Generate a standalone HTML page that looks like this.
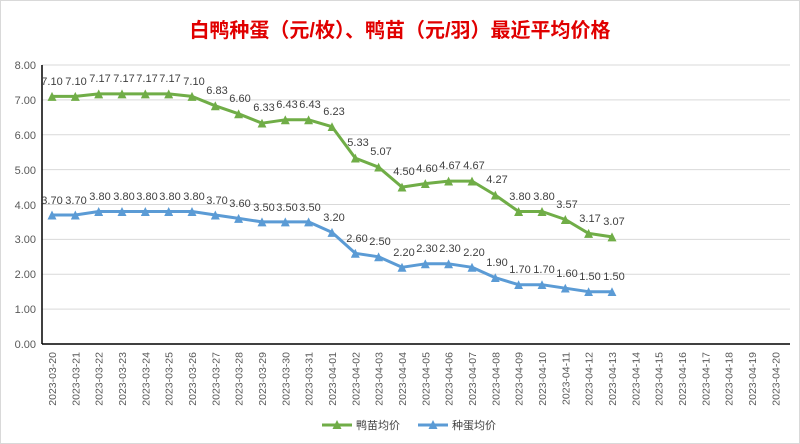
<!DOCTYPE html>
<html><head><meta charset="utf-8"><style>
html,body{margin:0;padding:0;background:#fff}
svg{display:block;font-family:"Liberation Sans","Noto Sans CJK SC",sans-serif}
</style></head><body>
<svg width="800" height="444" viewBox="0 0 800 444" xmlns="http://www.w3.org/2000/svg">
<defs>
<marker id="tg" viewBox="0 0 10 10" refX="5" refY="5" markerWidth="9" markerHeight="9" markerUnits="userSpaceOnUse"><path d="M5 0L10 10H0Z" fill="#70AD47"/></marker>
<marker id="tb" viewBox="0 0 10 10" refX="5" refY="5" markerWidth="9" markerHeight="9" markerUnits="userSpaceOnUse"><path d="M5 0L10 10H0Z" fill="#5B9BD5"/></marker>
</defs>
<rect x="0.5" y="0.5" width="799" height="443" fill="#fff" stroke="#d9d9d9"/>
<text x="400" y="37" text-anchor="middle" font-size="20" font-weight="bold" fill="#E00000">白鸭种蛋（元/枚）、鸭苗（元/羽）最近平均价格</text>
<g stroke="#d9d9d9" stroke-width="1">
<line x1="42" x2="790" y1="65" y2="65"/><line x1="42" x2="790" y1="99.9" y2="99.9"/><line x1="42" x2="790" y1="134.8" y2="134.8"/><line x1="42" x2="790" y1="169.6" y2="169.6"/><line x1="42" x2="790" y1="204.5" y2="204.5"/><line x1="42" x2="790" y1="239.4" y2="239.4"/><line x1="42" x2="790" y1="274.3" y2="274.3"/><line x1="42" x2="790" y1="309.1" y2="309.1"/>
</g>
<line x1="42" x2="790" y1="344" y2="344" stroke="#000" stroke-width="1.5"/>
<line x1="42" x2="42" y1="65" y2="344" stroke="#000" stroke-width="1.5"/>
<g font-size="11" fill="#595959" text-anchor="end">
<text x="36" y="69">8.00</text><text x="36" y="104">7.00</text><text x="36" y="139">6.00</text><text x="36" y="174">5.00</text><text x="36" y="209">4.00</text><text x="36" y="243">3.00</text><text x="36" y="278">2.00</text><text x="36" y="313">1.00</text><text x="36" y="348">0.00</text>
</g>
<g font-size="10.5" fill="#595959" text-anchor="end">
<text transform="translate(56,352) rotate(-90)">2023-03-20</text>
<text transform="translate(79.3,352) rotate(-90)">2023-03-21</text>
<text transform="translate(102.7,352) rotate(-90)">2023-03-22</text>
<text transform="translate(126,352) rotate(-90)">2023-03-23</text>
<text transform="translate(149.3,352) rotate(-90)">2023-03-24</text>
<text transform="translate(172.7,352) rotate(-90)">2023-03-25</text>
<text transform="translate(196,352) rotate(-90)">2023-03-26</text>
<text transform="translate(219.3,352) rotate(-90)">2023-03-27</text>
<text transform="translate(242.6,352) rotate(-90)">2023-03-28</text>
<text transform="translate(266,352) rotate(-90)">2023-03-29</text>
<text transform="translate(289.3,352) rotate(-90)">2023-03-30</text>
<text transform="translate(312.6,352) rotate(-90)">2023-03-31</text>
<text transform="translate(336,352) rotate(-90)">2023-04-01</text>
<text transform="translate(359.3,352) rotate(-90)">2023-04-02</text>
<text transform="translate(382.6,352) rotate(-90)">2023-04-03</text>
<text transform="translate(406,352) rotate(-90)">2023-04-04</text>
<text transform="translate(429.3,352) rotate(-90)">2023-04-05</text>
<text transform="translate(452.6,352) rotate(-90)">2023-04-06</text>
<text transform="translate(476,352) rotate(-90)">2023-04-07</text>
<text transform="translate(499.3,352) rotate(-90)">2023-04-08</text>
<text transform="translate(522.6,352) rotate(-90)">2023-04-09</text>
<text transform="translate(546,352) rotate(-90)">2023-04-10</text>
<text transform="translate(569.3,352) rotate(-90)">2023-04-11</text>
<text transform="translate(592.6,352) rotate(-90)">2023-04-12</text>
<text transform="translate(616,352) rotate(-90)">2023-04-13</text>
<text transform="translate(639.3,352) rotate(-90)">2023-04-14</text>
<text transform="translate(662.6,352) rotate(-90)">2023-04-15</text>
<text transform="translate(686,352) rotate(-90)">2023-04-16</text>
<text transform="translate(709.3,352) rotate(-90)">2023-04-17</text>
<text transform="translate(732.6,352) rotate(-90)">2023-04-18</text>
<text transform="translate(756,352) rotate(-90)">2023-04-19</text>
<text transform="translate(779.3,352) rotate(-90)">2023-04-20</text>
</g>
<polyline fill="none" stroke="#70AD47" stroke-width="3" stroke-linejoin="round" marker-start="url(#tg)" marker-mid="url(#tg)" marker-end="url(#tg)" points="52,96.4 75.3,96.4 98.7,93.9 122,93.9 145.3,93.9 168.7,93.9 192,96.4 215.3,105.8 238.6,113.8 262,123.2 285.3,119.8 308.6,119.8 332,126.7 355.3,158.1 378.6,167.2 402,187.1 425.3,183.6 448.6,181.1 472,181.1 495.3,195.1 518.6,211.5 542,211.5 565.3,219.5 588.6,233.4 612,236.9"/>
<polyline fill="none" stroke="#5B9BD5" stroke-width="3" stroke-linejoin="round" marker-start="url(#tb)" marker-mid="url(#tb)" marker-end="url(#tb)" points="52,215 75.3,215 98.7,211.5 122,211.5 145.3,211.5 168.7,211.5 192,211.5 215.3,215 238.6,218.4 262,221.9 285.3,221.9 308.6,221.9 332,232.4 355.3,253.3 378.6,256.8 402,267.3 425.3,263.8 448.6,263.8 472,267.3 495.3,277.7 518.6,284.7 542,284.7 565.3,288.2 588.6,291.7 612,291.7"/>
<g font-size="11" fill="#404040" text-anchor="middle">
<text x="52" y="85">7.10</text><text x="76" y="85">7.10</text><text x="100" y="82">7.17</text><text x="124" y="82">7.17</text><text x="147" y="82">7.17</text><text x="170" y="82">7.17</text><text x="194" y="85">7.10</text><text x="217" y="94">6.83</text><text x="240" y="102">6.60</text><text x="264" y="111">6.33</text><text x="287" y="108">6.43</text><text x="310" y="108">6.43</text><text x="334" y="115">6.23</text><text x="358" y="146">5.33</text><text x="381" y="155">5.07</text><text x="404" y="175">4.50</text><text x="427" y="172">4.60</text><text x="450" y="169">4.67</text><text x="474" y="169">4.67</text><text x="497" y="183">4.27</text><text x="520" y="200">3.80</text><text x="544" y="200">3.80</text><text x="567" y="208">3.57</text><text x="590" y="222">3.17</text><text x="614" y="225">3.07</text>
<text x="52" y="204">3.70</text><text x="76" y="204">3.70</text><text x="100" y="200">3.80</text><text x="124" y="200">3.80</text><text x="147" y="200">3.80</text><text x="170" y="200">3.80</text><text x="194" y="200">3.80</text><text x="217" y="204">3.70</text><text x="240" y="207">3.60</text><text x="264" y="211">3.50</text><text x="287" y="211">3.50</text><text x="310" y="211">3.50</text><text x="334" y="221">3.20</text><text x="357" y="242">2.60</text><text x="380" y="245">2.50</text><text x="404" y="256">2.20</text><text x="427" y="252">2.30</text><text x="450" y="252">2.30</text><text x="474" y="256">2.20</text><text x="497" y="266">1.90</text><text x="520" y="273">1.70</text><text x="544" y="273">1.70</text><text x="567" y="277">1.60</text><text x="590" y="280">1.50</text><text x="614" y="280">1.50</text>
</g>
<g font-size="11" fill="#404040">
<line x1="322" x2="352" y1="425" y2="425" stroke="#70AD47" stroke-width="3"/><path d="M337 420L341.5 429H332.5Z" fill="#70AD47"/>
<text x="356" y="429">鸭苗均价</text>
<line x1="418" x2="448" y1="425" y2="425" stroke="#5B9BD5" stroke-width="3"/><path d="M433 420L437.5 429H428.5Z" fill="#5B9BD5"/>
<text x="452" y="429">种蛋均价</text>
</g>
</svg>
</body></html>
